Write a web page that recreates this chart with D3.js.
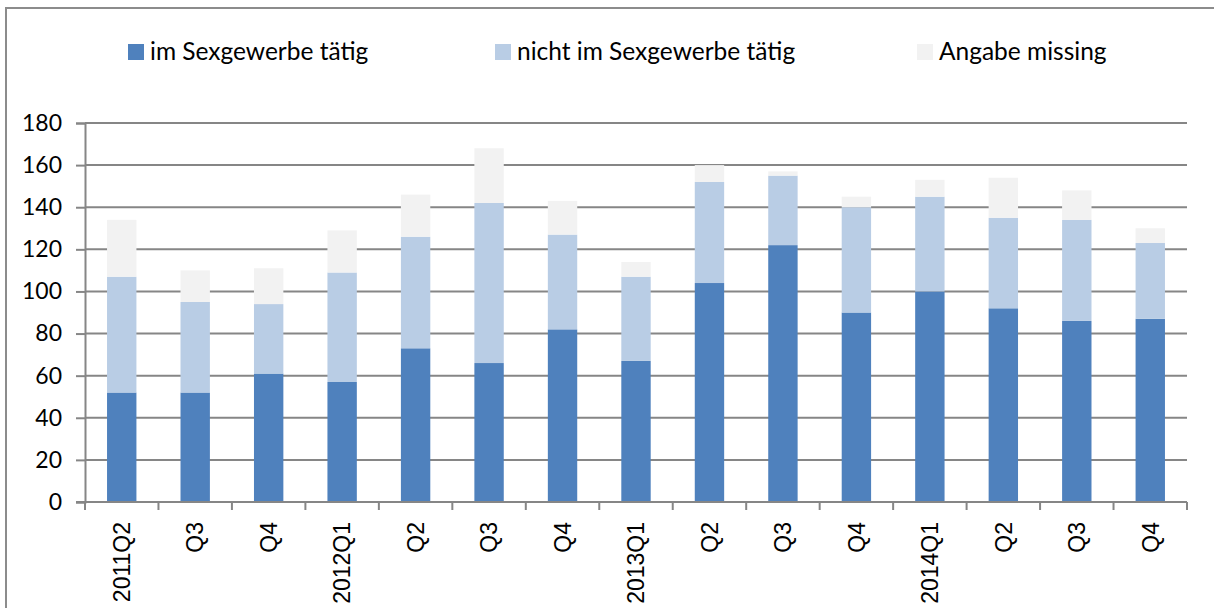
<!DOCTYPE html>
<html>
<head>
<meta charset="utf-8">
<script src="https://cdn.jsdelivr.net/npm/d3@7"></script>
<style>
	body { margin: 0; background: #fff; }
	svg { display: block; }
</style>
</head>
<body>
<svg id="chart" width="1214" height="608"></svg>
<script>
/*=================
=== Data
=================*/
var quarters = ['2011Q2', 'Q3', 'Q4', '2012Q1', 'Q2', 'Q3', 'Q4', '2013Q1', 'Q2', 'Q3', 'Q4', '2014Q1', 'Q2', 'Q3', 'Q4'];
var imSexgewerbe = [52, 52, 61, 57, 73, 66, 82, 67, 104, 122, 90, 100, 92, 86, 87];
var nichtImSexgewerbe = [55, 43, 33, 52, 53, 76, 45, 40, 48, 33, 50, 45, 43, 48, 36];
var angabeMissing = [27, 15, 17, 20, 20, 26, 16, 7, 8, 2, 5, 8, 19, 14, 7];
var yTicks = [0, 20, 40, 60, 80, 100, 120, 140, 160, 180];

var seriesNames = ['im Sexgewerbe tätig', 'nicht im Sexgewerbe tätig', 'Angabe missing'];
var seriesColors = ['#4F81BD', '#B9CDE5', '#F2F2F2'];

/*=================
=== Setup
=================*/
var svg = d3.select('#chart');
var gridColor = '#868686';

// plot area (note: "top" is reserved on window, so prefixed names)
var plotLeft = 85, plotRight = 1187, plotTop = 123, plotBottom = 502;

var x = d3.scaleBand()
	.domain(d3.range(quarters.length))
	.range([plotLeft, plotRight])
	.paddingInner(0.6)
	.paddingOuter(0.3);

var y = d3.scaleLinear()
	.domain([0, 180])
	.range([plotBottom, plotTop]);

// chart frame (only top + left visible)
svg.append('path')
	.attr('d', 'M6,608 L6,8 L1214,8')
	.attr('fill', 'none')
	.attr('stroke', '#8c8c8c')
	.attr('stroke-width', 2);

// gridlines + y axis
var yAxis = svg.append('g')
	.attr('transform', `translate(${plotLeft},0)`)
	.call(d3.axisLeft(y).tickValues(yTicks).tickSize(9).tickPadding(14));

yAxis.select('.domain').attr('stroke', gridColor).attr('stroke-width', 2);
yAxis.selectAll('.tick line').attr('stroke', gridColor).attr('stroke-width', 2);
yAxis.selectAll('.tick text')
	.attr('fill', '#000')
	.style('font-family', 'Lato, "Open Sans", sans-serif')
	.style('font-size', '23px');

svg.append('g')
	.selectAll('line')
	.data(yTicks.filter(d => d > 0))
	.enter()
	.append('line')
	.attr('x1', plotLeft)
	.attr('x2', plotRight)
	.attr('y1', d => y(d))
	.attr('y2', d => y(d))
	.attr('stroke', gridColor)
	.attr('stroke-width', 2);

/*=================
=== Stacked bars
=================*/
var rows = quarters.map((q, i) => ({
	i: i,
	a: imSexgewerbe[i],
	b: nichtImSexgewerbe[i],
	c: angabeMissing[i]
}));

var stack = d3.stack().keys(['a', 'b', 'c'])(rows);

svg.append('g')
	.selectAll('g')
	.data(stack)
	.enter()
	.append('g')
	.attr('fill', (d, k) => seriesColors[k])
	.selectAll('rect')
	.data(d => d)
	.enter()
	.append('rect')
	.attr('x', d => x(d.data.i))
	.attr('width', x.bandwidth())
	.attr('y', d => y(d[1]))
	.attr('height', d => y(d[0]) - y(d[1]));

/*=================
=== X axis
=================*/
svg.append('line')
	.attr('x1', plotLeft - 9)
	.attr('x2', plotRight)
	.attr('y1', plotBottom)
	.attr('y2', plotBottom)
	.attr('stroke', gridColor)
	.attr('stroke-width', 2);

var step = x.step();
svg.append('g')
	.selectAll('line')
	.data(d3.range(quarters.length + 1))
	.enter()
	.append('line')
	.attr('x1', d => plotLeft + d * step)
	.attr('x2', d => plotLeft + d * step)
	.attr('y1', plotBottom)
	.attr('y2', plotBottom + 8)
	.attr('stroke', gridColor)
	.attr('stroke-width', 2);

svg.append('g')
	.selectAll('text')
	.data(quarters)
	.enter()
	.append('text')
	.attr('transform', (d, i) => `translate(${x(i) + x.bandwidth() / 2},522) rotate(-90)`)
	.attr('text-anchor', 'end')
	.attr('dy', '0.36em')
	.style('font-family', '"Liberation Sans", Arial, sans-serif')
	.style('font-size', '23px')
	.text(d => d);

/*=================
=== Legend
=================*/
var legendX = [128, 495, 917];

var legend = svg.append('g')
	.selectAll('g')
	.data(seriesNames)
	.enter()
	.append('g')
	.attr('transform', (d, i) => `translate(${legendX[i]},44)`);

legend.append('rect')
	.attr('width', 16)
	.attr('height', 16)
	.attr('fill', (d, i) => seriesColors[i]);

legend.append('text')
	.attr('x', 22)
	.attr('y', 16)
	.style('font-family', 'Lato, "Open Sans", sans-serif')
	.style('font-size', '24.5px')
	.text(d => d);
</script>
</body>
</html>
